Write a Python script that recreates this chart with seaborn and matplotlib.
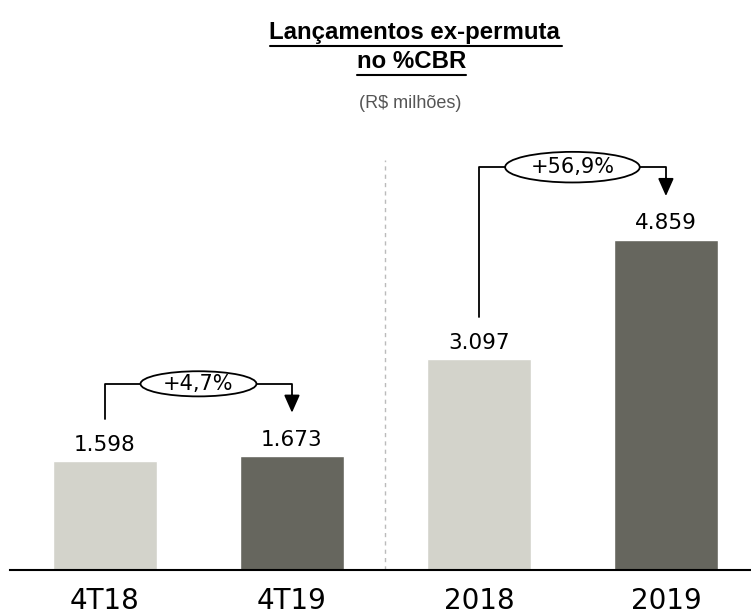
import matplotlib
matplotlib.use("Agg")
import matplotlib.pyplot as plt
from matplotlib.patches import Ellipse
import seaborn as sns
import pandas as pd

categories = ["4T18", "4T19", "2018", "2019"]
values = [1598, 1673, 3097, 4859]
value_labels = ["1.598", "1.673", "3.097", "4.859"]
colors = ["#D3D3CB", "#66665E", "#D3D3CB", "#66665E"]
growth_pairs = [(0, 1), (2, 3)]
growth_labels = ["+4,7%", "+56,9%"]

sns.set_theme(style="white")
plt.rcParams["font.family"] = ["DejaVu Sans"]
plt.rcParams["text.color"] = "black"

W, H = 751, 616
fig = plt.figure(figsize=(W / 100, H / 100), dpi=100)
base_px = 46
ax = fig.add_axes([10 / W, base_px / H, 741 / W, (H - base_px) / H])

df = pd.DataFrame({"cat": categories, "val": values})
sns.barplot(data=df, x="cat", y="val", hue="cat", palette=colors,
            width=0.56, legend=False, ax=ax, saturation=1)

px_per_unit = 0.068
ax.set_xlim(-0.508, 3.455)
ax.set_ylim(0, (H - base_px) / px_per_unit)

for s in ["top", "right", "left"]:
    ax.spines[s].set_visible(False)
ax.spines["bottom"].set_color("black")
ax.spines["bottom"].set_linewidth(1.5)
ax.set_yticks([])
ax.set_xlabel("")
ax.set_ylabel("")
ax.tick_params(axis="x", length=0, pad=12, labelsize=20, labelcolor="black")

for i, (v, lab) in enumerate(zip(values, value_labels)):
    ax.text(i, v + 90, lab, ha="center", va="bottom", fontsize=15.5, color="black")

ax.plot([1.5, 1.5], [0, 6030], color="#BBBBBB", lw=1, ls=(0, (3, 3)))

for (a, b), lab in zip(growth_pairs, growth_labels):
    top = max(values[a], values[b]) + 1065
    start = values[a] + 620
    tip = values[b] + 640
    mid = (a + b) / 2
    ew = 0.62 if len(lab) <= 5 else 0.72
    eh = 370 if len(lab) <= 5 else 450
    ax.plot([a, a, mid - ew / 2], [start, top, top], color="black", lw=1.3)
    ax.plot([mid + ew / 2, b, b], [top, top, tip + 250], color="black", lw=1.3)
    ax.annotate("", xy=(b, tip), xytext=(b, tip + 260),
                arrowprops=dict(arrowstyle="-|>,head_length=0.9,head_width=0.4",
                                color="black", lw=1.3, shrinkA=0, shrinkB=0))
    ax.add_patch(Ellipse((mid, top), ew, eh, facecolor="white",
                         edgecolor="black", lw=1.3, zorder=3))
    ax.text(mid, top, lab, ha="center", va="center", fontsize=15, zorder=4,
            color="black")

fig.text(414 / W, 1 - 33 / H, "Lançamentos ex-permuta", ha="center", va="center",
         fontsize=17.3, fontweight="bold", family="Liberation Sans", color="black")
fig.text(412 / W, 1 - 62 / H, "no %CBR", ha="center", va="center",
         fontsize=17.3, fontweight="bold", family="Liberation Sans", color="black")
fig.add_artist(plt.Line2D([270 / W, 562 / W], [1 - 46 / H, 1 - 46 / H], color="black", lw=1.5))
fig.add_artist(plt.Line2D([357 / W, 466 / W], [1 - 75 / H, 1 - 75 / H], color="black", lw=1.5))
fig.text(410 / W, 1 - 104 / H, "(R$ milhões)", ha="center", va="center",
         fontsize=13, color="#555555", family="Liberation Sans")

fig.savefig("out.png", dpi=100)
